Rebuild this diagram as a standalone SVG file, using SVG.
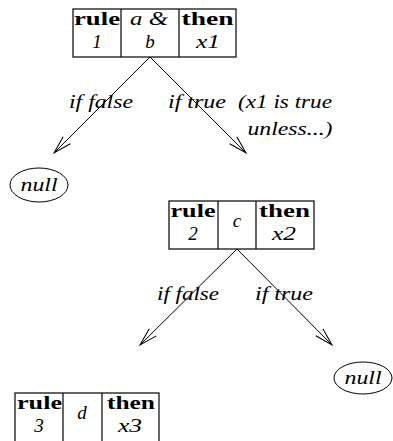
<svg xmlns="http://www.w3.org/2000/svg" width="393" height="441" viewBox="0 0 393 441">
<style>
.box{fill:#fff;stroke:#000;stroke-width:1.2}
.ln{stroke:#000;stroke-width:1;fill:none;marker-end:url(#arr)}
text{font-family:"Liberation Serif","Times New Roman",serif;font-size:19px;fill:#000;text-anchor:middle}
.b{font-weight:bold;font-size:18px}
.i{font-style:italic}
</style>
<defs>
<marker id="arr" markerUnits="userSpaceOnUse" markerWidth="24" markerHeight="16" refX="0" refY="0" viewBox="-20 -8 24 16" orient="auto">
<path d="M-18,-5 L0,0 L-18,5" fill="none" stroke="#000" stroke-width="1"/>
</marker>
</defs>
<rect width="393" height="441" fill="#fff"/>
<g id="connectors">
<line class="ln" x1="150" y1="57" x2="54" y2="153"/>
<line class="ln" x1="150" y1="57" x2="246" y2="153"/>
<line class="ln" x1="237" y1="249" x2="140" y2="345"/>
<line class="ln" x1="237" y1="249" x2="332" y2="345"/>
<text class="i" x="101" y="108" textLength="64" lengthAdjust="spacingAndGlyphs">if false</text>
<text class="i" x="197" y="108" textLength="58" lengthAdjust="spacingAndGlyphs">if true</text>
<text class="i" x="285" y="108" textLength="94" lengthAdjust="spacingAndGlyphs">(x1 is true</text>
<text class="i" x="290" y="135" textLength="85" lengthAdjust="spacingAndGlyphs">unless...)</text>
<text class="i" x="188" y="300" textLength="62" lengthAdjust="spacingAndGlyphs">if false</text>
<text class="i" x="284" y="300" textLength="58" lengthAdjust="spacingAndGlyphs">if true</text>
</g>
<g id="rule1">
<rect class="box" x="73" y="9" width="163" height="48"/>
<line x1="121" y1="9" x2="121" y2="57" stroke="#000" stroke-width="1.2"/>
<line x1="179" y1="9" x2="179" y2="57" stroke="#000" stroke-width="1.2"/>
<text class="b" x="97" y="25" textLength="46" lengthAdjust="spacingAndGlyphs">rule</text>
<text class="i" x="97" y="48">1</text>
<text class="i" x="149" y="25" textLength="38" lengthAdjust="spacingAndGlyphs">a &amp;</text>
<text class="i" x="150" y="48">b</text>
<text class="b" x="207.5" y="25" textLength="52" lengthAdjust="spacingAndGlyphs">then</text>
<text class="i" x="208" y="48" textLength="24" lengthAdjust="spacingAndGlyphs">x1</text>
</g>
<g id="null1">
<ellipse cx="39" cy="185" rx="29" ry="17" fill="#fff" stroke="#000" stroke-width="1"/>
<text class="i" x="39" y="191" textLength="37" lengthAdjust="spacingAndGlyphs">null</text>
</g>
<g id="rule2">
<rect class="box" x="169" y="201" width="145" height="48"/>
<line x1="218" y1="201" x2="218" y2="249" stroke="#000" stroke-width="1.2"/>
<line x1="256" y1="201" x2="256" y2="249" stroke="#000" stroke-width="1.2"/>
<text class="b" x="193" y="217" textLength="45" lengthAdjust="spacingAndGlyphs">rule</text>
<text class="i" x="193" y="240">2</text>
<text class="i" x="237" y="227">c</text>
<text class="b" x="284.5" y="217" textLength="51" lengthAdjust="spacingAndGlyphs">then</text>
<text class="i" x="284" y="240" textLength="24" lengthAdjust="spacingAndGlyphs">x2</text>
</g>
<g id="null2">
<ellipse cx="363" cy="378" rx="29" ry="16" fill="#fff" stroke="#000" stroke-width="1"/>
<text class="i" x="363" y="384" textLength="37" lengthAdjust="spacingAndGlyphs">null</text>
</g>
<g id="rule3">
<rect class="box" x="15" y="393" width="144" height="50"/>
<line x1="63" y1="393" x2="63" y2="443" stroke="#000" stroke-width="1.2"/>
<line x1="102" y1="393" x2="102" y2="443" stroke="#000" stroke-width="1.2"/>
<text class="b" x="39.5" y="409" textLength="45" lengthAdjust="spacingAndGlyphs">rule</text>
<text class="i" x="39" y="432">3</text>
<text class="i" x="82" y="419">d</text>
<text class="b" x="131" y="409" textLength="48" lengthAdjust="spacingAndGlyphs">then</text>
<text class="i" x="130" y="432" textLength="24" lengthAdjust="spacingAndGlyphs">x3</text>
</g>
</svg>
